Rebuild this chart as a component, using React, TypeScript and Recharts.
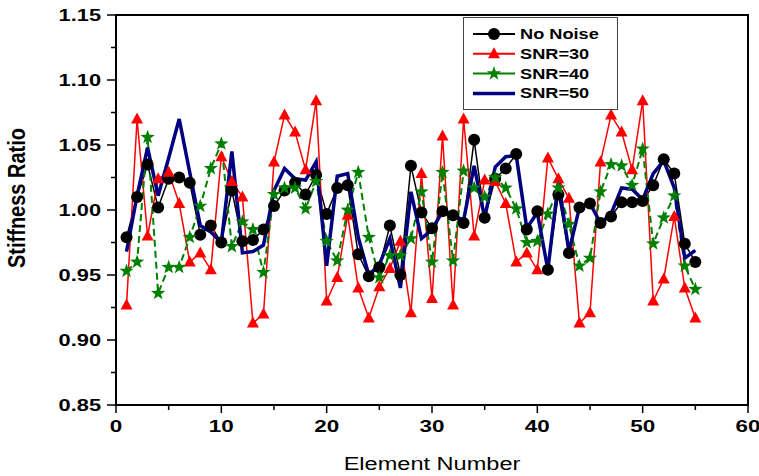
import { Legend, Line, LineChart, ReferenceArea, XAxis, YAxis } from "recharts";

const ELEMENTS = Array.from({ length: 55 }, (_, i) => i + 1);

const NO_NOISE = [
  0.979, 1.01, 1.035, 1.002, 1.024, 1.025, 1.021, 0.981, 0.988, 0.975,
  1.015, 0.976, 0.977, 0.985, 1.003, 1.015, 1.021, 1.012, 1.027, 0.997,
  1.017, 1.019, 0.966, 0.949, 0.956, 0.988, 0.95, 1.034, 0.998, 0.986,
  0.999, 0.996, 0.99, 1.054, 0.994, 1.024, 1.032, 1.043, 0.985, 0.999,
  0.954, 1.012, 0.967, 1.002, 1.005, 0.99, 0.995, 1.006, 1.006, 1.007,
  1.019, 1.039, 1.028, 0.974, 0.96,
];

const SNR30 = [
  0.927, 1.07, 0.98, 1.024, 1.029, 1.005, 0.96, 0.967, 0.954, 1.041,
  1.022, 1.01, 0.913, 0.92, 1.037, 1.073, 1.06, 1.031, 1.084, 0.93,
  0.948, 0.996, 0.94, 0.917, 0.941, 0.955, 0.976, 0.921, 1.028, 0.932,
  1.057, 0.927, 1.07, 0.98, 1.023, 1.022, 1.005, 0.96, 0.967, 0.954,
  1.04, 1.024, 1.009, 0.913, 0.921, 1.037, 1.073, 1.06, 1.031, 1.084,
  0.93, 0.947, 0.995, 0.94, 0.917,
];

const SNR40 = [
  0.953, 0.96, 1.056, 0.936, 0.956, 0.956, 0.979, 1.003, 1.032, 1.051,
  0.972, 0.991, 0.985, 0.952, 1.012, 1.017, 1.017, 1.001, 1.022, 0.976,
  0.961, 1.0, 1.029, 0.979, 0.948, 0.965, 0.965, 0.978, 1.014, 0.96,
  1.029, 0.961, 1.03, 1.017, 1.01, 1.025, 1.017, 1.001, 0.975, 0.976,
  0.997, 1.017, 0.989, 0.957, 0.963, 1.014, 1.035, 1.034, 1.019, 1.047,
  0.974, 0.994, 1.011, 0.957, 0.939,
];

const SNR50 = [
  0.968, 1.011, 1.048, 1.011, 1.04, 1.07, 1.029, 0.988, 0.983, 0.975,
  1.045, 0.967, 0.968, 0.973, 1.015, 1.032, 1.024, 1.023, 1.037, 0.957,
  1.026, 1.028, 0.979, 0.95, 0.958, 0.978, 0.94, 1.014, 0.978, 0.985,
  0.999, 0.996, 0.992, 1.034, 0.994, 1.033, 1.041, 1.042, 0.986, 0.998,
  0.954, 1.022, 0.968, 1.002, 1.005, 0.99, 0.997, 1.017, 1.016, 1.008,
  1.028, 1.038, 1.017, 0.963, 0.969,
];

const X_TICKS = [0, 5, 10, 15, 20, 25, 30, 35, 40, 45, 50, 55, 60];
const Y_TICKS = [
  0.85, 0.875, 0.9, 0.925, 0.95, 0.975, 1.0, 1.025, 1.05, 1.075, 1.1, 1.125, 1.15,
];

const data = ELEMENTS.map((el, i) => ({
  element: el,
  noNoise: NO_NOISE[i],
  snr30: SNR30[i],
  snr40: SNR40[i],
  snr50: SNR50[i],
}));

const FONT = '"Liberation Sans", Arial, sans-serif';
const STRETCH = 1.32;
const X_TICK_SIZE = 8;
const X_TICK_MARGIN = 7;
const Y_TICK_SIZE = 9;
const Y_TICK_MARGIN = 6;

type Marker = "circle" | "triangle" | "star" | "none";

function drawMarker(kind: Marker, cx: number, cy: number, color: string, key?: string) {
  if (kind === "circle") return <circle key={key} cx={cx} cy={cy} r={6} fill={color} />;
  if (kind === "triangle") {
    const pts = `${cx},${cy - 6.5} ${cx - 6},${cy + 4.5} ${cx + 6},${cy + 4.5}`;
    return <polygon key={key} points={pts} fill={color} />;
  }
  if (kind === "star") {
    const pts: string[] = [];
    for (let k = 0; k < 10; k++) {
      const r = k % 2 === 0 ? 7.5 : 3;
      const a = -Math.PI / 2 + (k * Math.PI) / 5;
      pts.push(`${cx + r * Math.cos(a)},${cy + r * Math.sin(a)}`);
    }
    return <polygon key={key} points={pts.join(" ")} fill={color} />;
  }
  return <g key={key} />;
}

const SERIES = [
  { key: "noNoise", name: "No Noise", color: "#000000", width: 1.5, dash: undefined, marker: "circle" as Marker },
  { key: "snr30", name: "SNR=30", color: "#ff0000", width: 1.5, dash: undefined, marker: "triangle" as Marker },
  { key: "snr40", name: "SNR=40", color: "#008000", width: 2, dash: "7 4", marker: "star" as Marker },
  { key: "snr50", name: "SNR=50", color: "#000080", width: 3.5, dash: undefined, marker: "none" as Marker },
];

function XTick(props: any) {
  const { x, y, payload } = props;
  const major = payload.value % 10 === 0;
  const axisY = y - X_TICK_SIZE - X_TICK_MARGIN;
  return (
    <g>
      <line x1={x} x2={x} y1={axisY} y2={axisY + (major ? 8 : 5)} stroke="#000" strokeWidth={1.5} />
      {major && (
        <text
          transform={`translate(${x},${y}) scale(${STRETCH},1)`}
          textAnchor="middle"
          dy="0.72em"
          fontFamily={FONT}
          fontWeight="bold"
          fontSize={17}
          fill="#000"
        >
          {payload.value}
        </text>
      )}
    </g>
  );
}

function YTick(props: any) {
  const { x, y, payload } = props;
  const major = Math.round(payload.value * 1000) % 50 === 0;
  const axisX = x + Y_TICK_SIZE + Y_TICK_MARGIN;
  return (
    <g>
      <line x1={axisX} x2={axisX - (major ? 9 : 5)} y1={y} y2={y} stroke="#000" strokeWidth={1.5} />
      {major && (
        <text
          transform={`translate(${x},${y}) scale(${STRETCH},1)`}
          textAnchor="end"
          dy="0.36em"
          fontFamily={FONT}
          fontWeight="bold"
          fontSize={16.5}
          fill="#000"
        >
          {payload.value.toFixed(2)}
        </text>
      )}
    </g>
  );
}

function LegendBox() {
  return (
    <svg width={156} height={94} style={{ display: "block" }}>
      <rect x={0.5} y={0.5} width={154} height={92} fill="#fff" stroke="#444" strokeWidth={1} />
      {SERIES.map((s, i) => {
        const cy = 17 + i * 19.8;
        return (
          <g key={s.key}>
            <line x1={10} x2={52} y1={cy} y2={cy} stroke={s.color} strokeWidth={s.key === "snr50" ? 3.5 : 2} />
            {drawMarker(s.marker, 31, cy, s.color)}
            <text
              transform={`translate(57,${cy}) scale(1.3,1)`}
              dy="0.36em"
              fontFamily={FONT}
              fontWeight="bold"
              fontSize={14}
              fill="#000"
            >
              {s.name}
            </text>
          </g>
        );
      })}
    </svg>
  );
}

function YTitle(props: any) {
  const vb = props.viewBox || { y: 15, height: 390 };
  const cy = vb.y + vb.height / 2 - 12;
  return (
    <text
      transform={`translate(25,${cy}) scale(1.2,1) rotate(-90)`}
      textAnchor="middle"
      fontFamily={FONT}
      fontWeight="bold"
      fontSize={20}
      fill="#000"
    >
      Stiffness Ratio
    </text>
  );
}

function XTitle(props: any) {
  const vb = props.viewBox || { x: 116, width: 632 };
  const cx = vb.x + vb.width / 2;
  return (
    <text
      transform={`translate(${cx},470) scale(1.24,1)`}
      textAnchor="middle"
      fontFamily={FONT}
      fontSize={19}
      fill="#000"
    >
      Element Number
    </text>
  );
}

export default function App() {
  return (
    <div style={{ position: "absolute", left: 0, top: 0, background: "#fff" }}>
      <LineChart width={759} height={476} data={data} margin={{ top: 15, right: 11, left: 0, bottom: 0 }}>
        <ReferenceArea
          x1={0}
          x2={60}
          y1={0.85}
          y2={1.15}
          fill="none"
          fillOpacity={0}
          stroke="#000"
          strokeWidth={2}
        />
        <XAxis
          dataKey="element"
          type="number"
          domain={[0, 60]}
          ticks={X_TICKS}
          interval={0}
          height={71}
          tickSize={X_TICK_SIZE}
          tickMargin={X_TICK_MARGIN}
          tickLine={false}
          tick={<XTick />}
          axisLine={{ stroke: "#000", strokeWidth: 2 }}
          label={<XTitle />}
        />
        <YAxis
          type="number"
          domain={[0.85, 1.15]}
          ticks={Y_TICKS}
          interval={0}
          width={116}
          tickSize={Y_TICK_SIZE}
          tickMargin={Y_TICK_MARGIN}
          tickLine={false}
          tick={<YTick />}
          axisLine={{ stroke: "#000", strokeWidth: 2 }}
          allowDataOverflow
          label={<YTitle />}
        />
        <Legend
          layout="vertical"
          align="center"
          verticalAlign="middle"
          content={<LegendBox />}
          wrapperStyle={{ left: 463, top: 17, width: 156, height: 94, right: "auto", bottom: "auto" }}
        />
        {SERIES.map((s) => (
          <Line
            key={s.key}
            type="linear"
            dataKey={s.key}
            name={s.name}
            stroke={s.color}
            strokeWidth={s.width}
            strokeDasharray={s.dash}
            dot={(p: any) => drawMarker(s.marker, p.cx, p.cy, s.color, `${s.key}-${p.index}`)}
            activeDot={false}
            isAnimationActive={false}
          />
        ))}
      </LineChart>
    </div>
  );
}
